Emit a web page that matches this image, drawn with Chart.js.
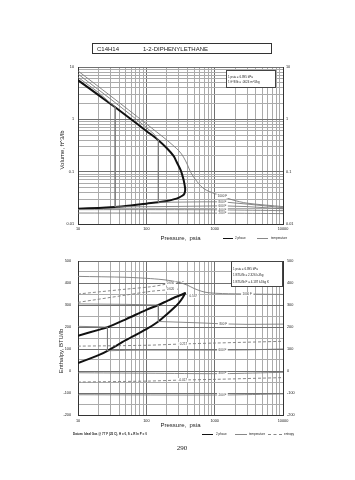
<!DOCTYPE html>
<html>
<head>
<meta charset="utf-8">
<title>C14H14 1-2-DIPHENYLETHANE</title>
<script src="https://cdn.jsdelivr.net/npm/chart.js@4.4.1/dist/chart.umd.min.js"></script>
<style>
  html, body { margin:0; padding:0; background:#fff; }
  body { position:relative; width:355px; height:480px; overflow:hidden; font-family:"Liberation Sans", Arial, sans-serif; color:#222; }
  canvas { position:absolute; left:0; }
  .t { position:absolute; white-space:nowrap; line-height:1; }
  .ln { position:absolute; height:0; }
  .box { position:absolute; background:#fff; border:1px solid #444; box-sizing:border-box; }
</style>
</head>
<body>
<canvas id="volChart" width="355" height="250" style="top:0"></canvas>
<canvas id="enthChart" width="355" height="230" style="top:250px"></canvas>

<div class="box" style="left:92px;top:43px;width:180px;height:11px;border-color:#333;background:transparent"></div>
<div class="t" style="left:97px;top:45.5px;font-size:6px">C14H14</div>
<div class="t" style="left:143px;top:45.5px;font-size:6px">1-2-DIPHENYLETHANE</div>

<div class="t" style="left:62px;top:150px;font-size:6px;transform:translate(-50%,-50%) rotate(-90deg)">Volume, ft^3/lb</div>
<div class="t" style="left:61px;top:351px;font-size:6px;transform:translate(-50%,-50%) rotate(-90deg)">Enthalpy, BTU/lb</div>

<div class="box" style="left:226px;top:70px;width:50px;height:18px"></div>
<div class="t" style="left:228px;top:75.5px;font-size:3px">1 psia = 6.895 kPa</div>
<div class="t" style="left:228px;top:80.5px;font-size:3px">1 ft^3/lb = .0624 m^3/kg</div>

<div class="box" style="left:231px;top:261px;width:52px;height:26px"></div>
<div class="t" style="left:233px;top:267.5px;font-size:3px">1 psia = 6.895 kPa</div>
<div class="t" style="left:233px;top:274px;font-size:3px">1 BTU/lb = 2.326 kJ/kg</div>
<div class="t" style="left:233px;top:280.5px;font-size:3px">1 BTU/lb F = 4.187 kJ/kg K</div>

<div class="ln" style="left:223px;top:237.5px;width:10px;border-top:1.5px solid #111"></div>
<div class="t" style="left:235px;top:236.5px;font-size:3px">2 phase</div>
<div class="ln" style="left:257px;top:238px;width:11px;border-top:1px solid #888"></div>
<div class="t" style="left:271px;top:236.5px;font-size:3px">temperature</div>

<div class="t" style="left:73px;top:432.5px;font-size:3px;font-weight:bold">Datum: Ideal Gas @ 77 F (25 C), H = 0, S + R ln P = 0</div>
<div class="ln" style="left:202px;top:433.5px;width:11px;border-top:1.5px solid #111"></div>
<div class="t" style="left:216px;top:432.5px;font-size:3px">2 phase</div>
<div class="ln" style="left:235px;top:434px;width:12px;border-top:1px solid #888"></div>
<div class="t" style="left:249px;top:432.5px;font-size:3px">temperature</div>
<div class="ln" style="left:268px;top:434px;width:14px;border-top:1px dashed #888"></div>
<div class="t" style="left:284px;top:432.5px;font-size:3px">entropy</div>

<div class="t" style="left:182px;top:448px;font-size:7px;font-family:'Liberation Serif','Times New Roman',serif;transform:translate(-50%,-50%)">290</div>

<script>
// ---------------- tick labels ----------------
const pressureTickLabels = ['10', '100', '1000', '10000'];
const volumeTickLabels = ['0.01', '0.1', '1', '10'];
const enthalpyTickLabels = ['-200', '-100', '0', '100', '200', '300', '400', '500'];

// ---------------- Volume chart (pressure psia vs volume ft^3/lb) ----------------
// saturation dome: vapour branch to the nose, then liquid branch back
const satVolP = [10, 20, 35, 50, 100, 150, 200, 250, 278, 320, 348, 362, 370, 368, 360, 340, 300, 250, 200, 150, 100, 50, 35, 20, 10];
const satVolV = [5.6, 2.9, 1.7, 1.2, 0.6, 0.4, 0.28, 0.2, 0.153, 0.105, 0.073, 0.057, 0.047, 0.042, 0.038, 0.035, 0.032, 0.0295, 0.0275, 0.026, 0.0245, 0.022, 0.0212, 0.0203, 0.0196];
const iso1000VolP = [10, 30, 100, 200, 300, 350, 400, 450, 550, 700, 1000, 1300, 1800, 3000, 10000];
const iso1000VolV = [8.4, 2.8, 0.82, 0.4, 0.25, 0.19, 0.135, 0.095, 0.065, 0.047, 0.038, 0.034, 0.029, 0.025, 0.0215];
const iso800VolP = [10, 30, 60, 100, 130, 150, 150, 300, 700, 1300, 3000, 10000];
const iso800VolV = [7.35, 2.44, 1.2, 0.7, 0.52, 0.4, 0.026, 0.0262, 0.0265, 0.0265, 0.024, 0.0205];
const iso600VolP = [10, 20, 35, 35, 100, 300, 1300, 3000, 10000];
const iso600VolV = [6.36, 3.25, 1.7, 0.0212, 0.0214, 0.0217, 0.0222, 0.0215, 0.0195];
const iso400VolP = [10, 100, 1300, 10000];
const iso400VolV = [0.0188, 0.0188, 0.0186, 0.018];
const iso200VolP = [10, 1300, 10000];
const iso200VolV = [0.0162, 0.0161, 0.0158];
const volLabelText = ['1000 F', '800 F', '600 F', '400 F', '200 F'];
const volLabelP = [1300, 1300, 1300, 1300, 1300];
const volLabelV = [0.034, 0.0265, 0.0222, 0.0186, 0.0161];

// ---------------- Enthalpy chart (pressure psia vs enthalpy BTU/lb) ----------------
const satEnthP = [10, 20, 27, 50, 100, 150, 200, 250, 300, 340, 370, 340, 300, 250, 200, 150, 100, 50, 27, 20, 10];
const satEnthH = [160, 187, 199, 235, 278, 300, 318, 332, 342, 349, 354, 333, 310, 285, 258, 225, 190, 140, 92, 72, 36];
const iso1000EnthP = [10, 50, 116, 200, 300, 400, 500, 650, 800, 1300, 3000, 10000];
const iso1000EnthH = [430, 426, 420, 413, 403, 390, 375, 362, 356, 352, 350, 348];
const iso800EnthP = [10, 50, 100, 150, 150, 300, 700, 1336, 3000, 10000];
const iso800EnthH = [305, 303, 301, 300, 225, 222, 218, 214, 212, 213];
const iso600EnthP = [10, 20, 27, 27, 50, 100, 300, 1300, 3000, 10000];
const iso600EnthH = [203, 201, 199, 92, 94, 95, 95, 95, 96, 100];
const iso400EnthP = [10, 100, 1300, 10000];
const iso400EnthH = [-8, -10, -12, -6];
const iso200EnthP = [10, 1300, 10000];
const iso200EnthH = [-108, -109, -104];
const sA_P = [10, 50, 116, 226, 350];
const sA_H = [350, 372, 383, 398, 407];
const sB_P = [10, 50, 116, 226, 290];
const sB_H = [312, 345, 362, 370, 372];
const sC_P = [10, 100, 350, 1000, 10000];
const sC_H = [113, 117, 123, 127, 135];
const sD_P = [10, 100, 340, 1000, 10000];
const sD_H = [-50, -46, -41, -38, -30];
const enthLabelText = ['1000 F', '800 F', '600 F', '400 F', '200 F', '0.650', '0.620', '0.537', '0.217', '-0.017'];
const enthLabelP = [3000, 1336, 1300, 1300, 1300, 226, 226, 486, 350, 340];
const enthLabelH = [350, 214, 95, -12, -109, 398, 370, 341, 123, -41];

// ---------------- helpers ----------------
const pts = (xs, ys) => xs.map((x, i) => ({ x: x, y: ys[i] }));
function logTicks(lo, hi) {
  const out = [];
  const e0 = Math.round(Math.log10(lo)), e1 = Math.round(Math.log10(hi));
  for (let e = e0; e < e1; e++) {
    for (let m = 1; m < 10; m++) out.push({ value: +(m * Math.pow(10, e)).toPrecision(6) });
  }
  out.push({ value: hi });
  return out;
}
function linTicks(lo, hi, step) {
  const out = [];
  for (let v = lo; v <= hi; v += step) out.push({ value: v });
  return out;
}
const isDecade = v => Math.abs(Math.log10(v) - Math.round(Math.log10(v))) < 1e-9;
const logGrid = c => (c.tick && isDecade(c.tick.value)) ? '#707070' : '#ababab';
const linGrid = c => (c.tick && c.tick.value % 100 === 0) ? '#707070' : '#ababab';
const labelFrom = list => v => list.includes(String(v)) ? String(v) : '';

const bold = { borderColor: '#111', borderWidth: 2, tension: 0.3, pointRadius: 0, fill: false };
const thin = { borderColor: '#7c7c7c', borderWidth: 0.9, tension: 0, pointRadius: 0, fill: false };
const thinSmooth = Object.assign({}, thin, { tension: 0.3 });
const dashed = { borderColor: '#7c7c7c', borderWidth: 0.9, borderDash: [3, 2], tension: 0.3, pointRadius: 0, fill: false };

const lineLabels = {
  id: 'lineLabels',
  afterDatasetsDraw(chart, args, opts) {
    const ctx = chart.ctx, xs = chart.scales.x, ys = chart.scales.y;
    ctx.save();
    ctx.font = '3px "Liberation Sans", Arial, sans-serif';
    ctx.textAlign = 'center';
    ctx.textBaseline = 'middle';
    opts.text.forEach((t, i) => {
      const px = xs.getPixelForValue(opts.xs[i]);
      const py = ys.getPixelForValue(opts.ys[i]);
      const w = ctx.measureText(t).width + 3;
      ctx.fillStyle = '#fff';
      ctx.fillRect(px - w / 2, py - 2, w, 4);
      ctx.fillStyle = '#333';
      ctx.fillText(t, px, py);
    });
    ctx.restore();
  }
};

const tickFont = { family: '"Liberation Sans", Arial, sans-serif', size: 3.8 };
const titleFont = { family: '"Liberation Sans", Arial, sans-serif', size: 6 };

function xAxis(height, titlePad, labelPad) {
  return {
    type: 'logarithmic', position: 'bottom', min: 10, max: 10000,
    afterBuildTicks: s => { s.ticks = logTicks(10, 10000); },
    afterFit: s => { s.height = height; },
    ticks: { autoSkip: false, maxRotation: 0, minRotation: 0, padding: labelPad, font: tickFont, color: '#222', callback: labelFrom(pressureTickLabels) },
    grid: { color: logGrid, lineWidth: 1, drawTicks: false },
    border: { color: '#333', width: 1 },
    title: { display: true, text: 'Pressure,  psia', font: titleFont, color: '#222', padding: { top: 0, bottom: titlePad } }
  };
}

// ---------------- Volume chart ----------------
new Chart(document.getElementById('volChart'), {
  type: 'line',
  data: {
    datasets: [
      Object.assign({ label: '1000 F', data: pts(iso1000VolP, iso1000VolV) }, thinSmooth),
      Object.assign({ label: '800 F', data: pts(iso800VolP, iso800VolV) }, thin),
      Object.assign({ label: '600 F', data: pts(iso600VolP, iso600VolV) }, thin),
      Object.assign({ label: '400 F', data: pts(iso400VolP, iso400VolV) }, thinSmooth),
      Object.assign({ label: '200 F', data: pts(iso200VolP, iso200VolV) }, thinSmooth),
      Object.assign({ label: '2 phase', data: pts(satVolP, satVolV) }, bold)
    ]
  },
  options: {
    responsive: false, animation: false, devicePixelRatio: 1,
    layout: { padding: { top: 67, left: 0, right: 0, bottom: 0 } },
    plugins: {
      legend: { display: false }, tooltip: { enabled: false },
      lineLabels: { text: volLabelText, xs: volLabelP, ys: volLabelV }
    },
    scales: {
      x: xAxis(26, 8, 3),
      y: {
        type: 'logarithmic', position: 'left', min: 0.01, max: 10,
        afterBuildTicks: s => { s.ticks = logTicks(0.01, 10); },
        afterFit: s => { s.width = 78; },
        ticks: { autoSkip: false, padding: 4, font: tickFont, color: '#222', callback: labelFrom(volumeTickLabels) },
        grid: { color: logGrid, lineWidth: 1, drawTicks: false },
        border: { color: '#333', width: 1 }
      },
      y2: {
        type: 'logarithmic', position: 'right', min: 0.01, max: 10,
        afterBuildTicks: s => { s.ticks = logTicks(0.01, 10); },
        afterFit: s => { s.width = 72; },
        ticks: { autoSkip: false, padding: 3, font: tickFont, color: '#222', callback: labelFrom(volumeTickLabels) },
        grid: { display: false, drawTicks: false },
        border: { color: '#333', width: 1 }
      }
    }
  },
  plugins: [lineLabels]
});

// ---------------- Enthalpy chart ----------------
new Chart(document.getElementById('enthChart'), {
  type: 'line',
  data: {
    datasets: [
      Object.assign({ label: '1000 F', data: pts(iso1000EnthP, iso1000EnthH) }, thinSmooth),
      Object.assign({ label: '800 F', data: pts(iso800EnthP, iso800EnthH) }, thin),
      Object.assign({ label: '600 F', data: pts(iso600EnthP, iso600EnthH) }, thin),
      Object.assign({ label: '400 F', data: pts(iso400EnthP, iso400EnthH) }, thinSmooth),
      Object.assign({ label: '200 F', data: pts(iso200EnthP, iso200EnthH) }, thinSmooth),
      Object.assign({ label: 'S 0.650', data: pts(sA_P, sA_H) }, dashed),
      Object.assign({ label: 'S 0.620', data: pts(sB_P, sB_H) }, dashed),
      Object.assign({ label: 'S 0.217', data: pts(sC_P, sC_H) }, dashed),
      Object.assign({ label: 'S -0.017', data: pts(sD_P, sD_H) }, dashed),
      Object.assign({ label: '2 phase', data: pts(satEnthP, satEnthH) }, bold)
    ]
  },
  options: {
    responsive: false, animation: false, devicePixelRatio: 1,
    layout: { padding: { top: 11, left: 0, right: 0, bottom: 0 } },
    plugins: {
      legend: { display: false }, tooltip: { enabled: false },
      lineLabels: { text: enthLabelText, xs: enthLabelP, ys: enthLabelH }
    },
    scales: {
      x: xAxis(65, 51, 3.5),
      y: {
        type: 'linear', position: 'left', min: -200, max: 500,
        afterBuildTicks: s => { s.ticks = linTicks(-200, 500, 50); },
        afterFit: s => { s.width = 78; },
        ticks: { autoSkip: false, padding: 7, font: tickFont, color: '#222', callback: labelFrom(enthalpyTickLabels) },
        grid: { color: linGrid, lineWidth: 1, drawTicks: false },
        border: { color: '#333', width: 1 }
      },
      y2: {
        type: 'linear', position: 'right', min: -200, max: 500,
        afterBuildTicks: s => { s.ticks = linTicks(-200, 500, 50); },
        afterFit: s => { s.width = 72; },
        ticks: { autoSkip: false, padding: 4, font: tickFont, color: '#222', callback: labelFrom(enthalpyTickLabels) },
        grid: { display: false, drawTicks: false },
        border: { color: '#333', width: 1 }
      }
    }
  },
  plugins: [lineLabels]
});
</script>
</body>
</html>
